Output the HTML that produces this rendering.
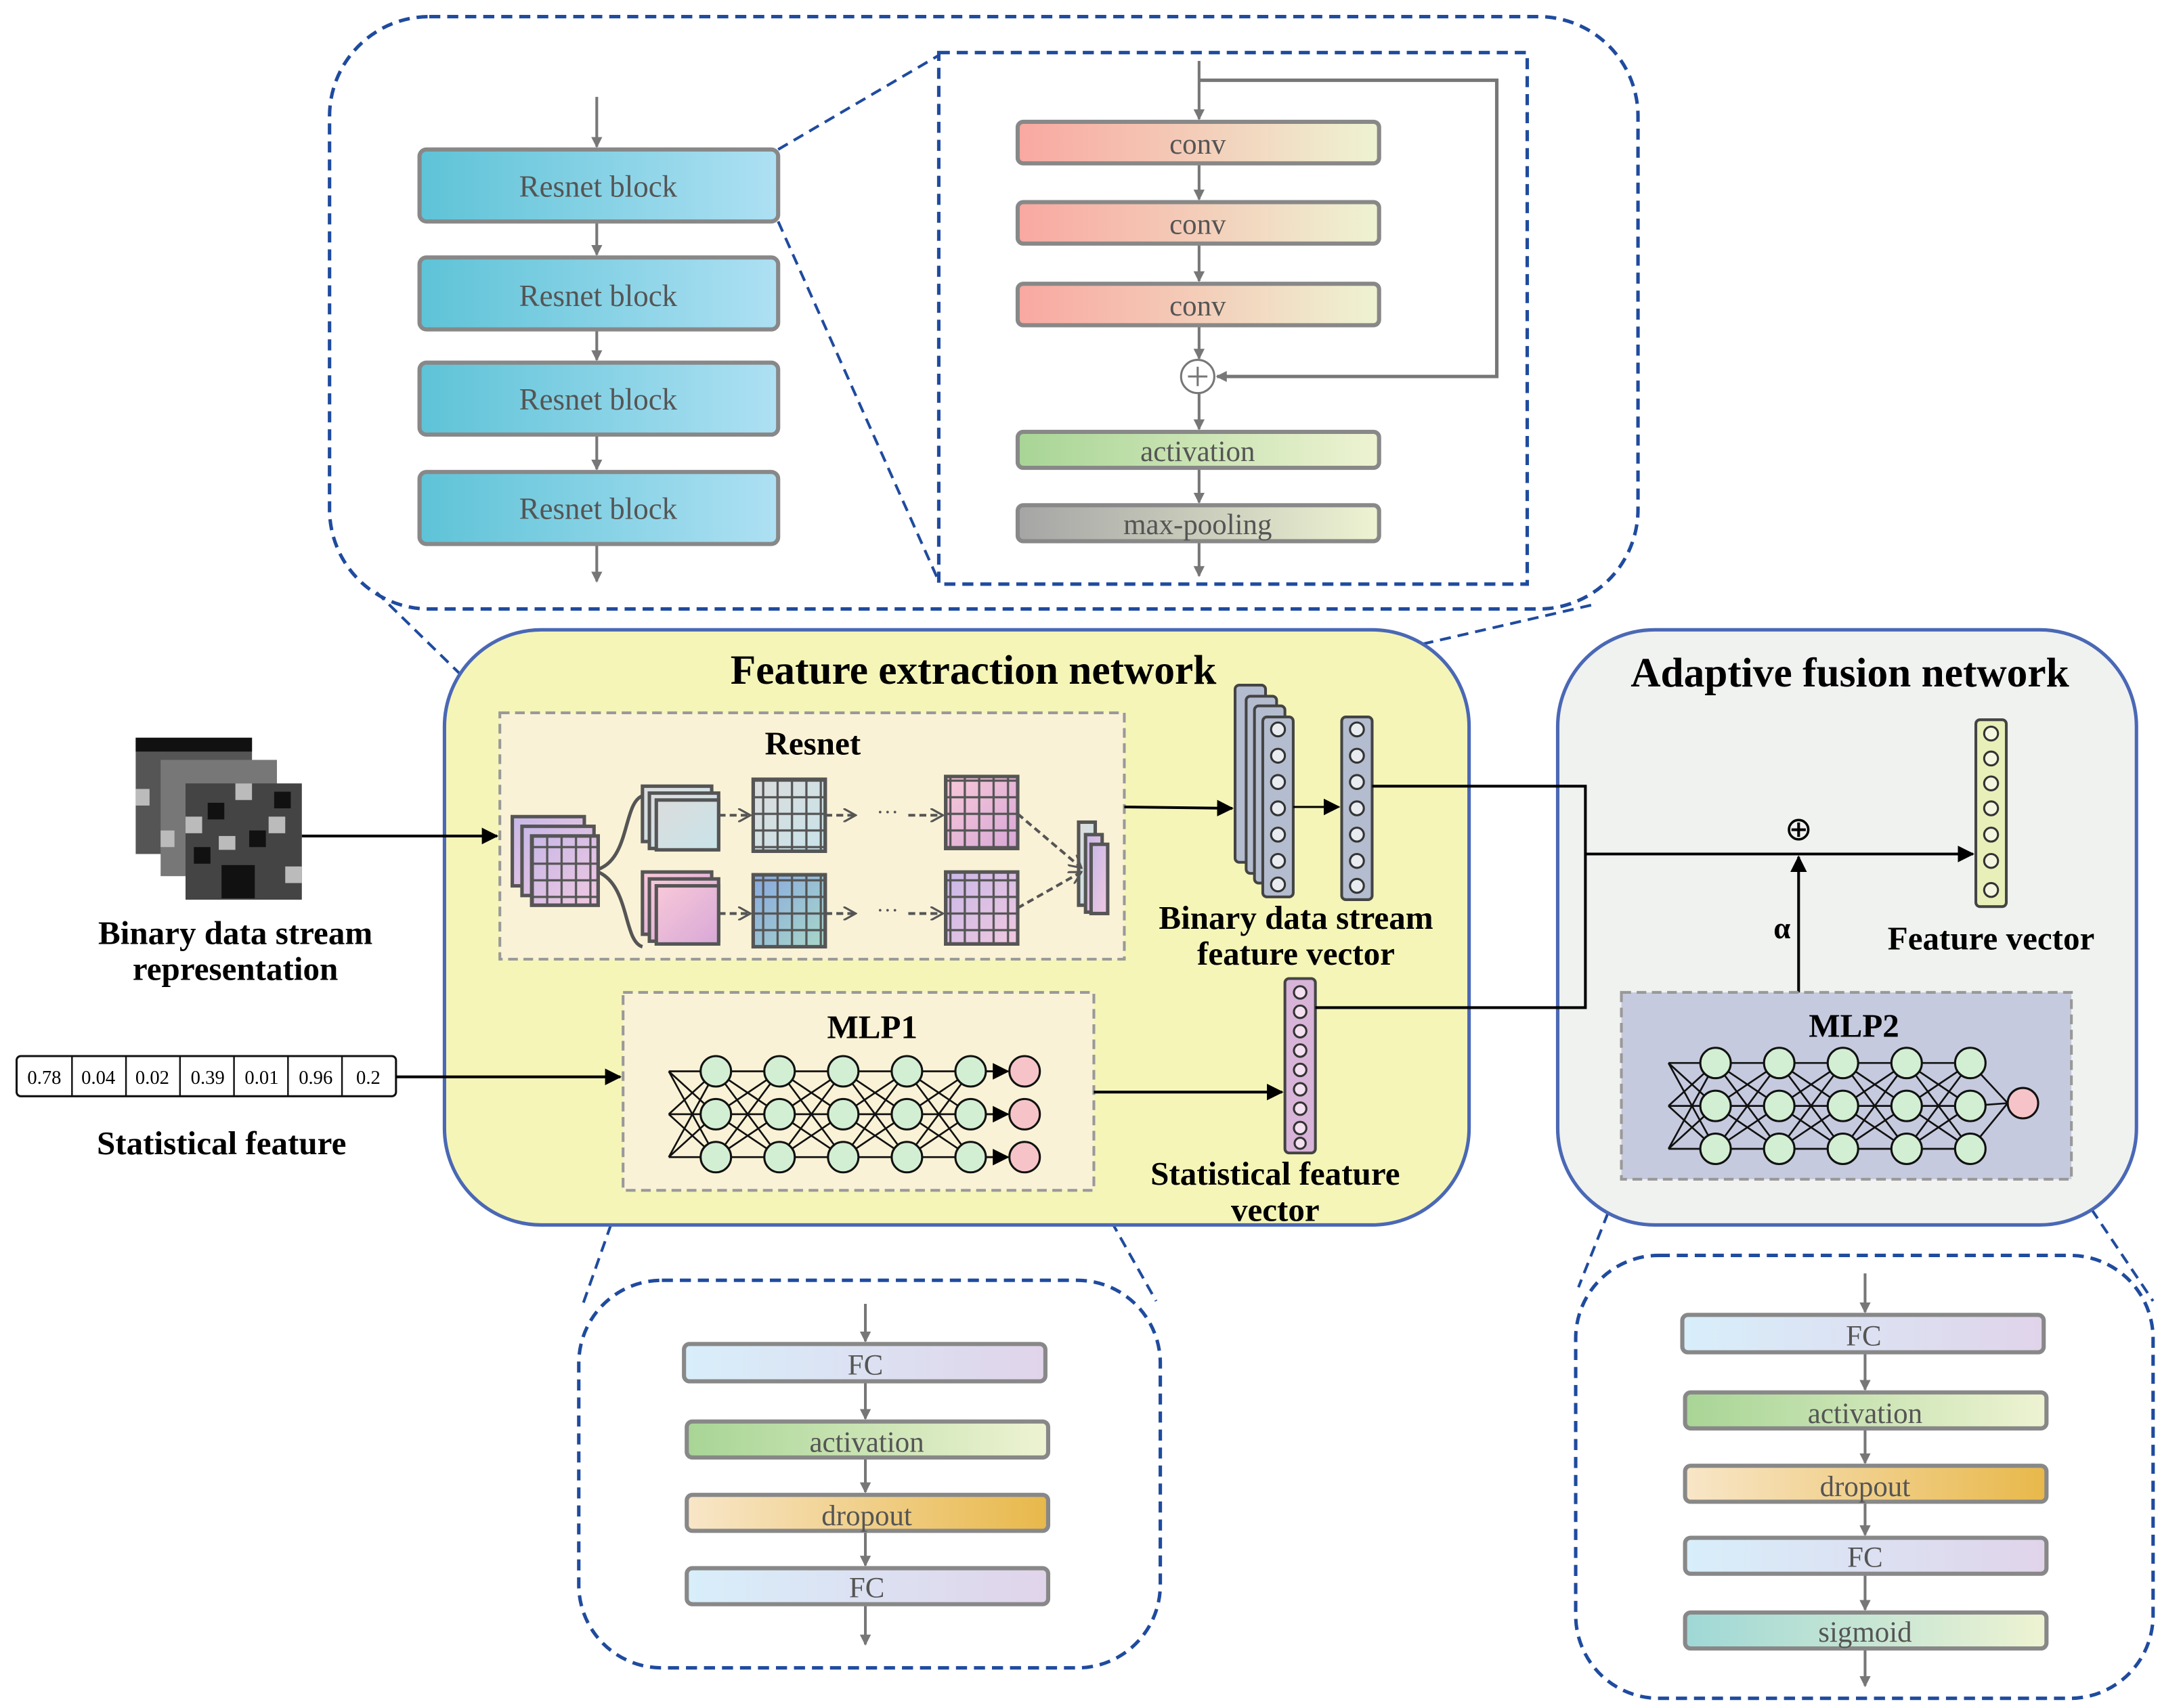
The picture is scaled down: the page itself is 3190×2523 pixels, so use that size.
<!DOCTYPE html>
<html><head><meta charset="utf-8"><style>html,body{margin:0;padding:0;background:#fff}svg{display:block}</style></head>
<body>
<svg width="3190" height="2523" viewBox="0 0 1560 1234" preserveAspectRatio="none" xmlns="http://www.w3.org/2000/svg" font-family="Liberation Serif, serif">
<defs>
<linearGradient id="rb" x1="0" x2="1"><stop offset="0" stop-color="#5ec3d7"/><stop offset="1" stop-color="#aee0f3"/></linearGradient>
<linearGradient id="cv" x1="0" x2="1"><stop offset="0" stop-color="#f9a8a0"/><stop offset="1" stop-color="#eef3d2"/></linearGradient>
<linearGradient id="ac" x1="0" x2="1"><stop offset="0" stop-color="#a8d596"/><stop offset="1" stop-color="#eef3d2"/></linearGradient>
<linearGradient id="mp" x1="0" x2="1"><stop offset="0" stop-color="#a5a5a5"/><stop offset="1" stop-color="#eef3d2"/></linearGradient>
<linearGradient id="fc" x1="0" x2="1"><stop offset="0" stop-color="#d8eefa"/><stop offset="1" stop-color="#e0d4ea"/></linearGradient>
<linearGradient id="dr" x1="0" x2="1"><stop offset="0" stop-color="#f8e6c8"/><stop offset="1" stop-color="#e8b84a"/></linearGradient>
<linearGradient id="sg" x1="0" x2="1"><stop offset="0" stop-color="#9fd8d6"/><stop offset="1" stop-color="#eef3d2"/></linearGradient>
<linearGradient id="pk" x1="0" y1="0" x2="1" y2="1"><stop offset="0" stop-color="#c8b8e8"/><stop offset="1" stop-color="#f0c8e0"/></linearGradient>
<linearGradient id="gy" x1="0" y1="0" x2="1" y2="1"><stop offset="0" stop-color="#dcdcdc"/><stop offset="1" stop-color="#c8e4ea"/></linearGradient>
<linearGradient id="bl" x1="0" y1="0" x2="1" y2="1"><stop offset="0" stop-color="#88a8e0"/><stop offset="1" stop-color="#a8d8c8"/></linearGradient>
<linearGradient id="pp" x1="0" y1="0" x2="1" y2="1"><stop offset="0" stop-color="#f8c8d8"/><stop offset="1" stop-color="#d8a8d8"/></linearGradient>
<pattern id="grid" width="10.4" height="12" patternUnits="userSpaceOnUse"><rect width="10.4" height="12" fill="none" stroke="#555" stroke-width="1.6"/></pattern>
<marker id="ga" markerWidth="8" markerHeight="8" refX="7" refY="4" orient="auto" markerUnits="userSpaceOnUse"><path d="M0,0 L8,4 L0,8 Z" fill="#777"/></marker>
<marker id="ka" markerWidth="12" markerHeight="12" refX="11" refY="6" orient="auto" markerUnits="userSpaceOnUse"><path d="M0,0 L12,6 L0,12 Z" fill="#000"/></marker>
<marker id="da" markerWidth="10" markerHeight="10" refX="9" refY="5" orient="auto" markerUnits="userSpaceOnUse"><path d="M0,0 L9,5 L0,10" fill="none" stroke="#555" stroke-width="1.5"/></marker>
</defs>

<rect x="238" y="12" width="945" height="428" rx="72" fill="none" stroke="#1f4b9e" stroke-width="2.5" stroke-dasharray="8,5"/>
<rect x="678" y="38" width="425" height="384" fill="none" stroke="#1f4b9e" stroke-width="2.5" stroke-dasharray="8,5"/>
<g stroke="#1f4b9e" stroke-width="2" stroke-dasharray="8,5" fill="none">
<line x1="562" y1="108" x2="678" y2="40"/><line x1="562" y1="160" x2="678" y2="420"/>
<line x1="361" y1="515" x2="272" y2="428"/><line x1="812" y1="515" x2="1150" y2="437"/>
<line x1="450" y1="860" x2="420" y2="945"/><line x1="790" y1="860" x2="835" y2="940"/>
<line x1="1171" y1="852" x2="1140" y2="930"/><line x1="1496" y1="852" x2="1555" y2="940"/>
</g>
<g stroke="#777" stroke-width="2" marker-end="url(#ga)">
<line x1="431" y1="70" x2="431" y2="106"/><line x1="431" y1="160" x2="431" y2="184"/><line x1="431" y1="238" x2="431" y2="260"/><line x1="431" y1="314" x2="431" y2="339"/><line x1="431" y1="393" x2="431" y2="420"/>
</g>
<g stroke="#888" stroke-width="3" fill="url(#rb)">
<rect x="303" y="108" width="259" height="52" rx="5"/><rect x="303" y="186" width="259" height="52" rx="5"/><rect x="303" y="262" width="259" height="52" rx="5"/><rect x="303" y="341" width="259" height="52" rx="5"/>
</g>
<g font-size="22" fill="#555" text-anchor="middle"><text x="432" y="142">Resnet block</text><text x="432" y="221">Resnet block</text><text x="432" y="296">Resnet block</text><text x="432" y="375">Resnet block</text></g>

<polyline points="866,58 1081,58 1081,272 879,272" fill="none" stroke="#777" stroke-width="2.5" marker-end="url(#ga)"/>
<g stroke="#777" stroke-width="2" marker-end="url(#ga)">
<line x1="866" y1="44" x2="866" y2="86"/><line x1="866" y1="118" x2="866" y2="144"/><line x1="866" y1="176" x2="866" y2="203"/><line x1="866" y1="235" x2="866" y2="259"/><line x1="866" y1="284" x2="866" y2="310"/><line x1="866" y1="338" x2="866" y2="363"/><line x1="866" y1="391" x2="866" y2="416"/>
</g>
<g stroke="#888" stroke-width="3">
<rect x="735" y="88" width="261" height="30" rx="4" fill="url(#cv)"/><rect x="735" y="146" width="261" height="30" rx="4" fill="url(#cv)"/><rect x="735" y="205" width="261" height="30" rx="4" fill="url(#cv)"/>
<rect x="735" y="312" width="261" height="26" rx="4" fill="url(#ac)"/><rect x="735" y="365" width="261" height="26" rx="4" fill="url(#mp)"/>
</g>
<circle cx="865" cy="272" r="12" fill="#fff" stroke="#777" stroke-width="1.5"/><path d="M858,272 H872 M865,265 V279" stroke="#777" stroke-width="1.5"/>
<g font-size="21" fill="#555" text-anchor="middle"><text x="865" y="111">conv</text><text x="865" y="169">conv</text><text x="865" y="228">conv</text><text x="865" y="333">activation</text><text x="865" y="386">max-pooling</text></g>

<rect x="321" y="455" width="740" height="430" rx="70" fill="#f5f5b8" stroke="#4a68b5" stroke-width="2.5"/>
<text x="703" y="494" font-size="30" font-weight="bold" text-anchor="middle">Feature extraction network</text>
<rect x="361" y="515" width="451" height="178" fill="#faf2d6" stroke="#999" stroke-width="2" stroke-dasharray="7,4"/>
<text x="587" y="545" font-size="24" font-weight="bold" text-anchor="middle">Resnet</text>
<g stroke="#555" stroke-width="2.5">
<rect x="370" y="590" width="52" height="50" fill="url(#pk)"/><rect x="377" y="597" width="52" height="50" fill="url(#pk)"/><rect x="384" y="604" width="48" height="50" fill="url(#pk)"/>
<rect x="384" y="604" width="48" height="50" fill="url(#grid)"/>
<path d="M432,628 C455,620 450,580 464,575 M432,630 C455,640 450,680 464,684" fill="none"/>
<rect x="464" y="568" width="50" height="40" fill="url(#gy)"/><rect x="469" y="573" width="50" height="40" fill="url(#gy)"/><rect x="474" y="578" width="45" height="36" fill="url(#gy)"/>
<rect x="464" y="630" width="50" height="45" fill="url(#pp)"/><rect x="469" y="635" width="50" height="45" fill="url(#pp)"/><rect x="474" y="640" width="45" height="42" fill="url(#pp)"/>
<rect x="544" y="563" width="52" height="52" fill="url(#gy)"/><rect x="544" y="563" width="52" height="52" fill="url(#grid)"/>
<rect x="544" y="632" width="52" height="52" fill="url(#bl)"/><rect x="544" y="632" width="52" height="52" fill="url(#grid)"/>
<rect x="683" y="561" width="52" height="52" fill="url(#pp)"/><rect x="683" y="561" width="52" height="52" fill="url(#grid)"/>
<rect x="683" y="630" width="52" height="52" fill="url(#pk)"/><rect x="683" y="630" width="52" height="52" fill="url(#grid)"/>
<rect x="779" y="594" width="12" height="60" fill="url(#gy)"/><rect x="784" y="603" width="12" height="56" fill="url(#pk)"/><rect x="788" y="610" width="12" height="50" fill="url(#pk)"/>
</g>
<g stroke="#555" stroke-width="2" stroke-dasharray="5,3" fill="none" marker-end="url(#da)">
<line x1="519" y1="589" x2="542" y2="589"/><line x1="519" y1="660" x2="542" y2="660"/>
<line x1="596" y1="589" x2="618" y2="589"/><line x1="596" y1="660" x2="618" y2="660"/>
<line x1="656" y1="589" x2="681" y2="589"/><line x1="656" y1="660" x2="681" y2="660"/>
<line x1="735" y1="588" x2="781" y2="627"/><line x1="735" y1="656" x2="781" y2="630"/>
</g>
<text x="641" y="592" font-size="16" fill="#555" text-anchor="middle">···</text><text x="641" y="663" font-size="16" fill="#555" text-anchor="middle">···</text>

<g stroke="#444" stroke-width="2" fill="#b4bccf">
<rect x="892" y="495" width="22" height="128" rx="3"/><rect x="900" y="503" width="22" height="128" rx="3"/><rect x="906" y="510" width="22" height="128" rx="3"/><rect x="912" y="518" width="22" height="130" rx="3"/>
<rect x="969" y="518" width="22" height="132" rx="3"/>
</g>
<g fill="#e8ecf0" stroke="#333" stroke-width="1.5">
<circle cx="923" cy="527" r="5"/><circle cx="923" cy="546" r="5"/><circle cx="923" cy="565" r="5"/><circle cx="923" cy="584" r="5"/><circle cx="923" cy="603" r="5"/><circle cx="923" cy="622" r="5"/><circle cx="923" cy="639" r="5"/>
<circle cx="980" cy="527" r="5"/><circle cx="980" cy="546" r="5"/><circle cx="980" cy="565" r="5"/><circle cx="980" cy="584" r="5"/><circle cx="980" cy="603" r="5"/><circle cx="980" cy="622" r="5"/><circle cx="980" cy="640" r="5"/>
</g>
<line x1="934" y1="583" x2="967" y2="583" stroke="#000" stroke-width="1.5" marker-end="url(#ka)"/>
<line x1="812" y1="583" x2="890" y2="584" stroke="#000" stroke-width="2" marker-end="url(#ka)"/>
<g font-size="24" font-weight="bold" text-anchor="middle"><text x="936" y="671">Binary data stream</text><text x="936" y="697">feature vector</text></g>

<rect x="450" y="717" width="340" height="143" fill="#faf2d6" stroke="#999" stroke-width="2" stroke-dasharray="7,4"/>
<text x="630" y="750" font-size="24" font-weight="bold" text-anchor="middle">MLP1</text>
<g stroke="#111" stroke-width="1.3" fill="none">
<path d="M483,774 L517,774 M483,805 L517,805 M483,836 L517,836 M483,774 L517,805 M483,774 L517,836 M483,805 L517,774 M483,805 L517,836 M483,836 L517,774 M483,836 L517,805"/>
<path d="M517,774 L563,774 M517,774 L563,805 M517,774 L563,836 M517,805 L563,774 M517,805 L563,805 M517,805 L563,836 M517,836 L563,774 M517,836 L563,805 M517,836 L563,836"/>
<path d="M563,774 L609,774 M563,774 L609,805 M563,774 L609,836 M563,805 L609,774 M563,805 L609,805 M563,805 L609,836 M563,836 L609,774 M563,836 L609,805 M563,836 L609,836"/>
<path d="M609,774 L655,774 M609,774 L655,805 M609,774 L655,836 M609,805 L655,774 M609,805 L655,805 M609,805 L655,836 M609,836 L655,774 M609,836 L655,805 M609,836 L655,836"/>
<path d="M655,774 L701,774 M655,774 L701,805 M655,774 L701,836 M655,805 L701,774 M655,805 L701,805 M655,805 L701,836 M655,836 L701,774 M655,836 L701,805 M655,836 L701,836"/>
</g>
<g stroke="#111" stroke-width="1.5" marker-end="url(#ka)"><line x1="712" y1="774" x2="728" y2="774"/><line x1="712" y1="805" x2="728" y2="805"/><line x1="712" y1="836" x2="728" y2="836"/></g>
<g fill="#d3efd3" stroke="#111" stroke-width="1.5">
<circle cx="517" cy="774" r="11"/><circle cx="517" cy="805" r="11"/><circle cx="517" cy="836" r="11"/>
<circle cx="563" cy="774" r="11"/><circle cx="563" cy="805" r="11"/><circle cx="563" cy="836" r="11"/>
<circle cx="609" cy="774" r="11"/><circle cx="609" cy="805" r="11"/><circle cx="609" cy="836" r="11"/>
<circle cx="655" cy="774" r="11"/><circle cx="655" cy="805" r="11"/><circle cx="655" cy="836" r="11"/>
<circle cx="701" cy="774" r="11"/><circle cx="701" cy="805" r="11"/><circle cx="701" cy="836" r="11"/>
</g>
<g fill="#f6c4c8" stroke="#111" stroke-width="1.5"><circle cx="740" cy="774" r="11"/><circle cx="740" cy="805" r="11"/><circle cx="740" cy="836" r="11"/></g>

<rect x="928" y="707" width="22" height="126" rx="3" fill="#d8b4d8" stroke="#444" stroke-width="2"/>
<g fill="#f4e0f0" stroke="#333" stroke-width="1.5"><circle cx="939" cy="717" r="4.5"/><circle cx="939" cy="731" r="4.5"/><circle cx="939" cy="745" r="4.5"/><circle cx="939" cy="759" r="4.5"/><circle cx="939" cy="773" r="4.5"/><circle cx="939" cy="787" r="4.5"/><circle cx="939" cy="801" r="4.5"/><circle cx="939" cy="815" r="4.5"/><circle cx="939" cy="826" r="4"/></g>
<line x1="790" y1="789" x2="926" y2="789" stroke="#000" stroke-width="2" marker-end="url(#ka)"/>
<g font-size="24" font-weight="bold" text-anchor="middle"><text x="921" y="856">Statistical feature</text><text x="921" y="882">vector</text></g>

<g>
<rect x="98" y="533" width="84" height="84" fill="#555"/><rect x="116" y="549" width="84" height="84" fill="#777"/><rect x="134" y="566" width="84" height="84" fill="#444"/>
<g fill="#111"><rect x="98" y="533" width="84" height="10"/><rect x="150" y="580" width="12" height="12"/><rect x="180" y="600" width="12" height="12"/><rect x="160" y="625" width="24" height="24"/><rect x="198" y="572" width="12" height="12"/><rect x="140" y="612" width="12" height="12"/></g>
<g fill="#bbb"><rect x="134" y="590" width="12" height="12"/><rect x="170" y="566" width="12" height="12"/><rect x="206" y="626" width="12" height="12"/><rect x="194" y="590" width="12" height="12"/><rect x="158" y="604" width="12" height="10"/><rect x="98" y="570" width="10" height="12"/><rect x="116" y="600" width="10" height="12"/></g>
</g>
<line x1="218" y1="604" x2="359" y2="604" stroke="#000" stroke-width="2" marker-end="url(#ka)"/>
<g font-size="24" font-weight="bold" text-anchor="middle"><text x="170" y="682">Binary data stream</text><text x="170" y="708">representation</text><text x="160" y="834">Statistical feature</text></g>
<rect x="12" y="763" width="274" height="29" rx="3" fill="#fff" stroke="#111" stroke-width="1.5"/>
<g stroke="#111" stroke-width="1.2"><line x1="52" y1="763" x2="52" y2="792"/><line x1="91" y1="763" x2="91" y2="792"/><line x1="130" y1="763" x2="130" y2="792"/><line x1="169" y1="763" x2="169" y2="792"/><line x1="208" y1="763" x2="208" y2="792"/><line x1="247" y1="763" x2="247" y2="792"/></g>
<g font-size="14" text-anchor="middle"><text x="32" y="783">0.78</text><text x="71" y="783">0.04</text><text x="110" y="783">0.02</text><text x="150" y="783">0.39</text><text x="189" y="783">0.01</text><text x="228" y="783">0.96</text><text x="266" y="783">0.2</text></g>
<line x1="286" y1="778" x2="448" y2="778" stroke="#000" stroke-width="2" marker-end="url(#ka)"/>

<rect x="1125" y="455" width="418" height="430" rx="70" fill="#f0f2f0" stroke="#4a68b5" stroke-width="2.5"/>
<text x="1336" y="496" font-size="30" font-weight="bold" text-anchor="middle">Adaptive fusion network</text>
<polyline points="991,568 1145,568 1145,728 950,728" fill="none" stroke="#000" stroke-width="2"/>
<line x1="1145" y1="617" x2="1425" y2="617" stroke="#000" stroke-width="2" marker-end="url(#ka)"/>
<text x="1299" y="607" font-size="24" text-anchor="middle" font-family="DejaVu Sans, sans-serif">⊕</text>
<line x1="1299" y1="717" x2="1299" y2="619" stroke="#000" stroke-width="2" marker-end="url(#ka)"/>
<text x="1287" y="678" font-size="22" font-weight="bold" text-anchor="middle">α</text>
<rect x="1427" y="520" width="22" height="135" rx="3" fill="#e8efb8" stroke="#444" stroke-width="2"/>
<g fill="#f4f6e0" stroke="#333" stroke-width="1.5"><circle cx="1438" cy="530" r="5"/><circle cx="1438" cy="548" r="5"/><circle cx="1438" cy="566" r="5"/><circle cx="1438" cy="584" r="5"/><circle cx="1438" cy="603" r="5"/><circle cx="1438" cy="622" r="5"/><circle cx="1438" cy="643" r="5"/></g>
<text x="1438" y="686" font-size="24" font-weight="bold" text-anchor="middle">Feature vector</text>

<rect x="1171" y="717" width="325" height="135" fill="#c5cadf" stroke="#999" stroke-width="2" stroke-dasharray="7,4"/>
<text x="1339" y="749" font-size="24" font-weight="bold" text-anchor="middle">MLP2</text>
<g stroke="#111" stroke-width="1.3" fill="none">
<path d="M1205,768 L1239,768 M1205,799 L1239,799 M1205,830 L1239,830 M1205,768 L1239,799 M1205,768 L1239,830 M1205,799 L1239,768 M1205,799 L1239,830 M1205,830 L1239,768 M1205,830 L1239,799"/>
<path d="M1239,768 L1285,768 M1239,768 L1285,799 M1239,768 L1285,830 M1239,799 L1285,768 M1239,799 L1285,799 M1239,799 L1285,830 M1239,830 L1285,768 M1239,830 L1285,799 M1239,830 L1285,830"/>
<path d="M1285,768 L1331,768 M1285,768 L1331,799 M1285,768 L1331,830 M1285,799 L1331,768 M1285,799 L1331,799 M1285,799 L1331,830 M1285,830 L1331,768 M1285,830 L1331,799 M1285,830 L1331,830"/>
<path d="M1331,768 L1377,768 M1331,768 L1377,799 M1331,768 L1377,830 M1331,799 L1377,768 M1331,799 L1377,799 M1331,799 L1377,830 M1331,830 L1377,768 M1331,830 L1377,799 M1331,830 L1377,830"/>
<path d="M1377,768 L1423,768 M1377,768 L1423,799 M1377,768 L1423,830 M1377,799 L1423,768 M1377,799 L1423,799 M1377,799 L1423,830 M1377,830 L1423,768 M1377,830 L1423,799 M1377,830 L1423,830"/>
<path d="M1423,768 L1450,797 M1423,799 L1450,797 M1423,830 L1450,797"/>
</g>
<g fill="#d3efd3" stroke="#111" stroke-width="1.5">
<circle cx="1239" cy="768" r="11"/><circle cx="1239" cy="799" r="11"/><circle cx="1239" cy="830" r="11"/>
<circle cx="1285" cy="768" r="11"/><circle cx="1285" cy="799" r="11"/><circle cx="1285" cy="830" r="11"/>
<circle cx="1331" cy="768" r="11"/><circle cx="1331" cy="799" r="11"/><circle cx="1331" cy="830" r="11"/>
<circle cx="1377" cy="768" r="11"/><circle cx="1377" cy="799" r="11"/><circle cx="1377" cy="830" r="11"/>
<circle cx="1423" cy="768" r="11"/><circle cx="1423" cy="799" r="11"/><circle cx="1423" cy="830" r="11"/>
</g>
<circle cx="1461" cy="797" r="11" fill="#f6c4c8" stroke="#111" stroke-width="1.5"/>

<rect x="418" y="925" width="420" height="280" rx="60" fill="none" stroke="#1f4b9e" stroke-width="2.5" stroke-dasharray="8,5"/>
<g stroke="#777" stroke-width="2" marker-end="url(#ga)">
<line x1="625" y1="942" x2="625" y2="969"/><line x1="625" y1="998" x2="625" y2="1025"/><line x1="625" y1="1053" x2="625" y2="1078"/><line x1="625" y1="1106" x2="625" y2="1131"/><line x1="625" y1="1159" x2="625" y2="1188"/>
</g>
<g stroke="#888" stroke-width="3">
<rect x="494" y="971" width="261" height="27" rx="4" fill="url(#fc)"/><rect x="496" y="1027" width="261" height="26" rx="4" fill="url(#ac)"/><rect x="496" y="1080" width="261" height="26" rx="4" fill="url(#dr)"/><rect x="496" y="1133" width="261" height="26" rx="4" fill="url(#fc)"/>
</g>
<g font-size="21" fill="#555" text-anchor="middle"><text x="625" y="993">FC</text><text x="626" y="1049">activation</text><text x="626" y="1102">dropout</text><text x="626" y="1154">FC</text></g>

<rect x="1138" y="907" width="417" height="320" rx="60" fill="none" stroke="#1f4b9e" stroke-width="2.5" stroke-dasharray="8,5"/>
<g stroke="#777" stroke-width="2" marker-end="url(#ga)">
<line x1="1347" y1="920" x2="1347" y2="948"/><line x1="1347" y1="977" x2="1347" y2="1004"/><line x1="1347" y1="1032" x2="1347" y2="1057"/><line x1="1347" y1="1085" x2="1347" y2="1109"/><line x1="1347" y1="1137" x2="1347" y2="1163"/><line x1="1347" y1="1191" x2="1347" y2="1218"/>
</g>
<g stroke="#888" stroke-width="3">
<rect x="1215" y="950" width="261" height="27" rx="4" fill="url(#fc)"/><rect x="1217" y="1006" width="261" height="26" rx="4" fill="url(#ac)"/><rect x="1217" y="1059" width="261" height="26" rx="4" fill="url(#dr)"/><rect x="1217" y="1111" width="261" height="26" rx="4" fill="url(#fc)"/><rect x="1217" y="1165" width="261" height="26" rx="4" fill="url(#sg)"/>
</g>
<g font-size="21" fill="#555" text-anchor="middle"><text x="1346" y="972">FC</text><text x="1347" y="1028">activation</text><text x="1347" y="1081">dropout</text><text x="1347" y="1132">FC</text><text x="1347" y="1186">sigmoid</text></g>
</svg>
</body></html>
